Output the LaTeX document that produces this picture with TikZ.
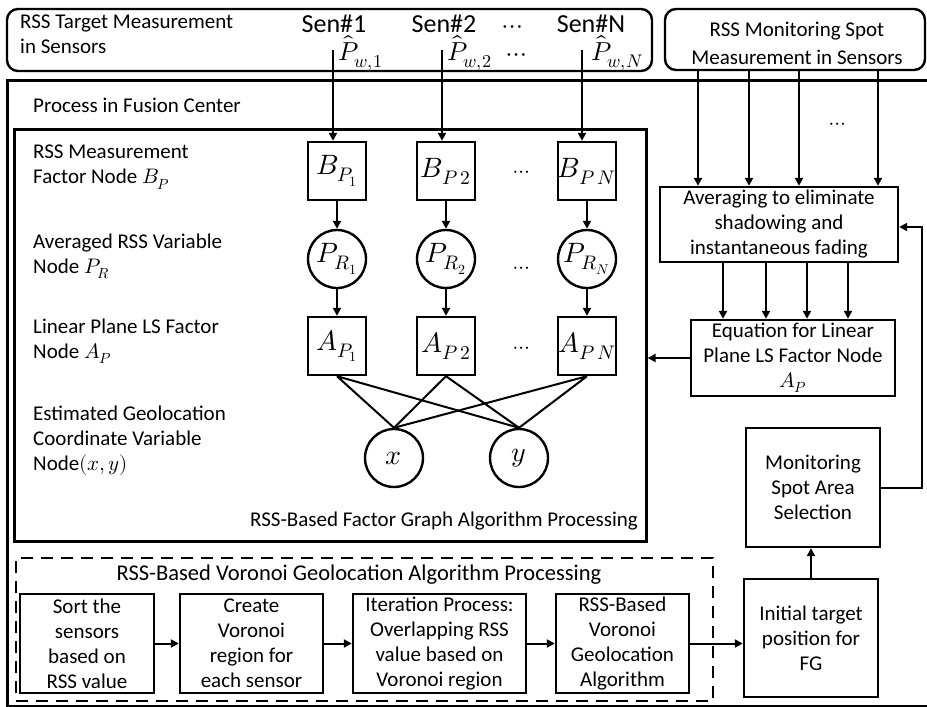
\documentclass[tikz,border=0pt]{standalone}
\usepackage{fontspec}
\usepackage{unicode-math}
\setmainfont{Carlito}
\setmathfont{Latin Modern Math}
\usetikzlibrary{positioning,arrows.meta,calc}

\begin{document}
\begin{tikzpicture}[x=1pt, y=-1pt,
  every node/.style={font=\fontsize{21}{25}\selectfont, inner sep=0pt},
  lbl/.style={anchor=north west, align=left},
  sen/.style={font=\fontsize{26}{30}\selectfont},
  frame/.style={draw, line width=2.6pt, anchor=north west},
  topbox/.style={draw, line width=2.4pt, rounded corners=11pt},
  vorbox/.style={draw, line width=2.4pt, dash pattern=on 12pt off 8pt, anchor=north west},
  facnode/.style={draw, line width=2.4pt, minimum size=58pt, font=\fontsize{28}{30}\selectfont},
  varnode/.style={draw, circle, line width=2.4pt, minimum size=58pt, font=\fontsize{28}{30}\selectfont},
  proc/.style={draw, line width=2.4pt, align=center},
  flow/.style={line width=2pt, -{Triangle[length=8pt,width=8pt]}},
  link/.style={line width=2pt}]

  \useasboundingbox (0,0) rectangle (927,707);
  \clip (0,0) rectangle (927,707);

  % ---- sensor side (top) ----
  \node[topbox, minimum width=645, minimum height=62] (tgt) at (329.5,40) {};
  \node[lbl] at (20,15) {RSS Target Measurement\\in Sensors};
  \node[topbox, minimum width=260, minimum height=61] (mon) at (795,39.5) {};
  \node[align=center, font=\fontsize{21}{28}\selectfont] at (797,43) {RSS Monitoring Spot\\Measurement in Sensors};

  % ---- fusion center frames ----
  \node[frame, minimum width=950, minimum height=626] (fc) at (6,79) {};
  \node[lbl] at (33,98) {Process in Fusion Center};
  \node[frame, minimum width=632, minimum height=412] (fg) at (13,128) {};
  \node[vorbox, minimum width=697, minimum height=143] (vor) at (15,557) {};

  % ---- left labels of the factor graph ----
  \node[lbl] at (33,145) {RSS Measurement\\Factor Node $B_P$};
  \node[lbl] at (33,234) {Averaged RSS Variable\\Node $P_R$};
  \node[lbl] at (33,319) {Linear Plane LS Factor\\Node $A_P$};
  \node[lbl] at (33,406) {Estimated Geolocation\\Coordinate Variable\\Node$(x,y)$};

  % ---- location variables ----
  \node[varnode] (vx) at (394,458) {$x$};
  \node[varnode] (vy) at (519,458) {$y$};

  % ---- one column per sensor ----
  \foreach \c/\xx/\sb/\sx/\tx/\px in {1/337/_1/333/334/338, 2/446/\,2/442/444/447, N/587/\,N/582/591/591}{
    \node[sen] (sen\c) at (\tx,24) {Sen\#\c};
    \node[sen, anchor=west] (pw\c) at (\px,53) {$\hat{P}_{w,\c}$};
    \coordinate (s\c) at (\sx,50);
    \node[facnode] (B\c) at (\xx,171) {$B_{P\sb}$};
    \node[varnode] (R\c) at (\xx,259) {$P_{R_\c}$};
    \node[facnode] (A\c) at (\xx,346) {$A_{P\sb}$};
    \draw[flow] (s\c) -- (B\c.north -| s\c);
    \draw[flow] (B\c.south) -- (R\c.north);
    \draw[flow] (R\c.south) -- (A\c.north);
    \draw[link] (A\c.south) -- (vx.north) (A\c.south) -- (vy.north);
  }
  \node[sen] (dt1) at (513,30) {$\cdots$};
  \node[sen] (dt2) at (517,58) {$\cdots$};
  \node (dt3) at (522,174) {$\cdots$};
  \node (dt4) at (522,270) {$\cdots$};
  \node (dt5) at (522,350) {$\cdots$};
  \node[anchor=east] (fgt) at (638,521) {RSS-Based Factor Graph Algorithm Processing};

  % ---- monitoring spot branch (right) ----
  \node[proc, minimum width=238, minimum height=75] (avg) at (779,224.5)
       {Averaging to eliminate\\shadowing and\\instantaneous fading};
  \node[proc, minimum width=204, minimum height=76] (eq) at (793,358)
       {Equation for Linear\\Plane LS Factor Node\\$A_P$};
  \node[proc, minimum width=134, minimum height=119] (msel) at (813,487.5)
       {Monitoring\\Spot Area\\Selection};
  \node[proc, minimum width=134, minimum height=118] (init) at (811,638)
       {Initial target\\position for\\FG};
  \node (dt6) at (838,126) {$\cdots$};

  \foreach \i/\xa/\xb in {1/698/723, 2/749/766, 3/799/807, 4/878/848}{
    \coordinate (ma\i) at (\xa,0);
    \coordinate (mb\i) at (\xb,0);
    \draw[flow] (mon.south -| ma\i) -- (avg.north -| ma\i);
    \draw[flow] (avg.south -| mb\i) -- (eq.north -| mb\i);
  }
  \draw[flow] (eq.west) -- (eq.west -| fg.east);
  \coordinate (fbk) at (922,227);
  \draw[flow] (msel.east) -| (fbk) -- (avg.east |- fbk);
  \draw[flow] (init.north) -- (msel.south -| init.north);

  % ---- voronoi chain (bottom) ----
  \node[font=\fontsize{22.5}{26}\selectfont] (vt) at (359,575) {RSS-Based Voronoi Geolocation Algorithm Processing};
  \node[proc, minimum width=134, minimum height=99] (srt) at (87,643.5)
       {Sort the\\sensors\\based on\\RSS value};
  \node[proc, minimum width=143, minimum height=99] (cre) at (251.5,643.5)
       {Create\\Voronoi\\region for\\each sensor};
  \node[proc, minimum width=173, minimum height=99] (itr) at (439.5,643.5)
       {Iteration Process:\\Overlapping RSS\\value based on\\Voronoi region};
  \node[proc, minimum width=133, minimum height=99] (vga) at (622.5,643.5)
       {RSS-Based\\Voronoi\\Geolocation\\Algorithm};
  \draw[flow] (srt) -- (cre);
  \draw[flow] (cre) -- (itr);
  \draw[flow] (itr) -- (vga);
  \draw[flow] (vga.east) -- (vga.east -| init.west);

\end{tikzpicture}
\end{document}
